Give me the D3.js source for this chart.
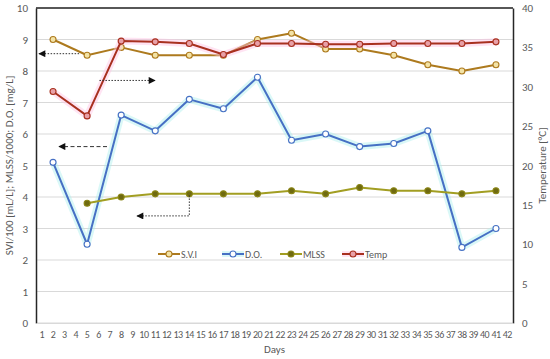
<!DOCTYPE html>
<html><head><meta charset="utf-8">
<script src="https://cdn.jsdelivr.net/npm/d3@7"></script>
<style>body{margin:0;background:#fff}svg{display:block}text{font-family:Calibri,Carlito,"Open Sans","Liberation Sans",Arial,sans-serif}</style>
</head><body><svg id="c" width="550" height="359"></svg>
<script>
const days = d3.range(1, 43);
const sampleDays = [2,5,8,11,14,17,20,23,26,29,32,35,38,41];
const sviValues = [9.0,8.5,8.75,8.5,8.5,8.5,9.0,9.2,8.7,8.7,8.5,8.2,8.0,8.2];
const doValues = [5.1,2.5,6.6,6.1,7.1,6.8,7.8,5.8,6.0,5.6,5.7,6.1,2.4,3.0];
const mlssDays = [5,8,11,14,17,20,23,26,29,32,35,38,41];
const mlssValues = [3.8,4.0,4.1,4.1,4.1,4.1,4.2,4.1,4.3,4.2,4.2,4.1,4.2];
const tempValues = [29.4,26.3,35.8,35.7,35.5,34.1,35.5,35.5,35.4,35.4,35.5,35.5,35.5,35.7];
const leftTicks = d3.range(0, 11);
const rightTicks = d3.range(0, 41, 5);
const seriesNames = ["S.V.I","D.O.","MLSS","Temp"];

const svg = d3.select("#c");
const L = 36, R = 513, T = 8, B = 323;
const x = d3.scaleBand().domain(days).range([L, R]).padding(0);
const yL = d3.scaleLinear().domain([0, 10]).range([B, T]);
const yR = d3.scaleLinear().domain([0, 40]).range([B, T]);
const cx = d => x(d) + x.bandwidth() / 2;
const grey = "#595959";

// gridlines
svg.append("g").selectAll("line").data(leftTicks).join("line")
  .attr("x1", L).attr("x2", R).attr("y1", d => yL(d)).attr("y2", d => yL(d))
  .attr("stroke", "#d9d9d9").attr("stroke-width", 1);

// axes
const gL = svg.append("g").attr("transform", `translate(${L},0)`)
  .call(d3.axisLeft(yL).tickValues(leftTicks).tickSize(0).tickPadding(8));
gL.select(".domain").attr("stroke", "#262626").attr("stroke-width", 1.5);
gL.selectAll("text").attr("fill", grey).attr("font-size", 11);

const gR = svg.append("g").attr("transform", `translate(${R},0)`)
  .call(d3.axisRight(yR).tickValues(rightTicks).tickSize(0).tickPadding(9));
gR.select(".domain").attr("stroke", "#262626").attr("stroke-width", 1.5);
gR.selectAll("text").attr("fill", grey).attr("font-size", 11);

const gB = svg.append("g").attr("transform", `translate(0,${B})`)
  .call(d3.axisBottom(x).tickSize(0).tickPadding(8));
gB.select(".domain").attr("stroke", "#d9d9d9");
gB.selectAll("text").attr("fill", grey).attr("font-size", 10).attr("letter-spacing", -0.5);

// top border
svg.append("line").attr("x1", L).attr("x2", R).attr("y1", T).attr("y2", T)
  .attr("stroke", "#262626").attr("stroke-width", 1.5);

// axis titles
svg.append("text").attr("transform", `translate(13,${(T+B)/2}) rotate(-90)`)
  .attr("text-anchor", "middle").attr("fill", grey).attr("font-size", 11)
  .text("SVI/100 [mL/L]; MLSS/1000; D.O. [mg/L]");
svg.append("text").attr("transform", `translate(546,${(T+B)/2}) rotate(-90)`)
  .attr("text-anchor", "middle").attr("fill", grey).attr("font-size", 11)
  .text("Temperature [°C]");
svg.append("text").attr("x", (L+R)/2).attr("y", 353).attr("text-anchor", "middle")
  .attr("fill", grey).attr("font-size", 11).text("Days");

// series
const series = [
  {name:"S.V.I", xs:sampleDays, vs:sviValues, y:yL, color:"#ad7a1e", fill:"#f3e3a6", glow:null, r:3},
  {name:"D.O.", xs:sampleDays, vs:doValues, y:yL, color:"#4670c4", fill:"#ffffff", glow:"#aef0ee", r:3},
  {name:"MLSS", xs:mlssDays, vs:mlssValues, y:yL, color:"#a29e22", fill:"#6f6a10", glow:null, r:3},
  {name:"Temp", xs:sampleDays, vs:tempValues, y:yR, color:"#a8301f", fill:"#e8a0a8", glow:"#ffc4e4", r:3}
];

const line = (s) => d3.line().x((d,i) => cx(s.xs[i])).y(d => s.y(d));

series.forEach(s => {
  const g = svg.append("g");
  if (s.glow) {
    g.append("path").datum(s.vs).attr("d", line(s)).attr("fill", "none")
      .attr("stroke", s.glow).attr("stroke-width", 7).attr("stroke-opacity", 0.45)
      .attr("stroke-linejoin", "round");
  }
  g.append("path").datum(s.vs).attr("d", line(s)).attr("fill", "none")
    .attr("stroke", s.color).attr("stroke-width", 2).attr("stroke-linejoin", "round");
  g.selectAll("circle").data(s.vs).join("circle")
    .attr("cx", (d,i) => cx(s.xs[i])).attr("cy", d => s.y(d)).attr("r", s.r)
    .attr("fill", s.fill).attr("stroke", s.name === "MLSS" ? "#8a8515" : s.color).attr("stroke-width", 1.1);
});

// arrows
const defs = svg.append("defs");
defs.append("marker").attr("id", "ah").attr("viewBox", "0 0 10 10").attr("refX", 9).attr("refY", 5)
  .attr("markerWidth", 9).attr("markerHeight", 7).attr("markerUnits", "userSpaceOnUse").attr("orient", "auto")
  .append("path").attr("d", "M0,0L10,5L0,10Z").attr("fill", "#111");
function arrow(pts, dash) {
  svg.append("path").attr("d", d3.line()(pts)).attr("fill", "none").attr("stroke", "#333")
    .attr("stroke-width", 1).attr("stroke-dasharray", dash).attr("marker-end", "url(#ah)");
}
arrow([[cx(5)-8, yL(8.55)], [39, yL(8.55)]], "1.5,1.5");
arrow([[cx(6)+1, yL(7.7)], [155, yL(7.7)]], "1.5,1.5");
arrow([[107, yL(5.6)], [59, yL(5.6)]], "4,2.5");
arrow([[cx(14), yL(4.05)], [cx(14), yL(3.4)], [137, yL(3.4)]], "1.5,1.5");

// legend
const legX = [158, 222, 280, 342];
const legY = 254;
const lg = svg.append("g");
series.forEach((s, i) => {
  const g = lg.append("g").attr("transform", `translate(${legX[i]},${legY})`);
  if (s.glow) g.append("line").attr("x1", 0).attr("x2", 22).attr("stroke", s.glow)
    .attr("stroke-width", 6).attr("stroke-opacity", 0.45);
  g.append("line").attr("x1", 0).attr("x2", 22).attr("stroke", s.color).attr("stroke-width", 2);
  g.append("circle").attr("cx", 11).attr("r", 3).attr("fill", s.fill)
    .attr("stroke", s.name === "MLSS" ? "#8a8515" : s.color).attr("stroke-width", 1.1);
  g.append("text").attr("x", 23).attr("y", 3.5).attr("fill", grey).attr("font-size", 10).text(seriesNames[i]);
});
</script></body></html>
